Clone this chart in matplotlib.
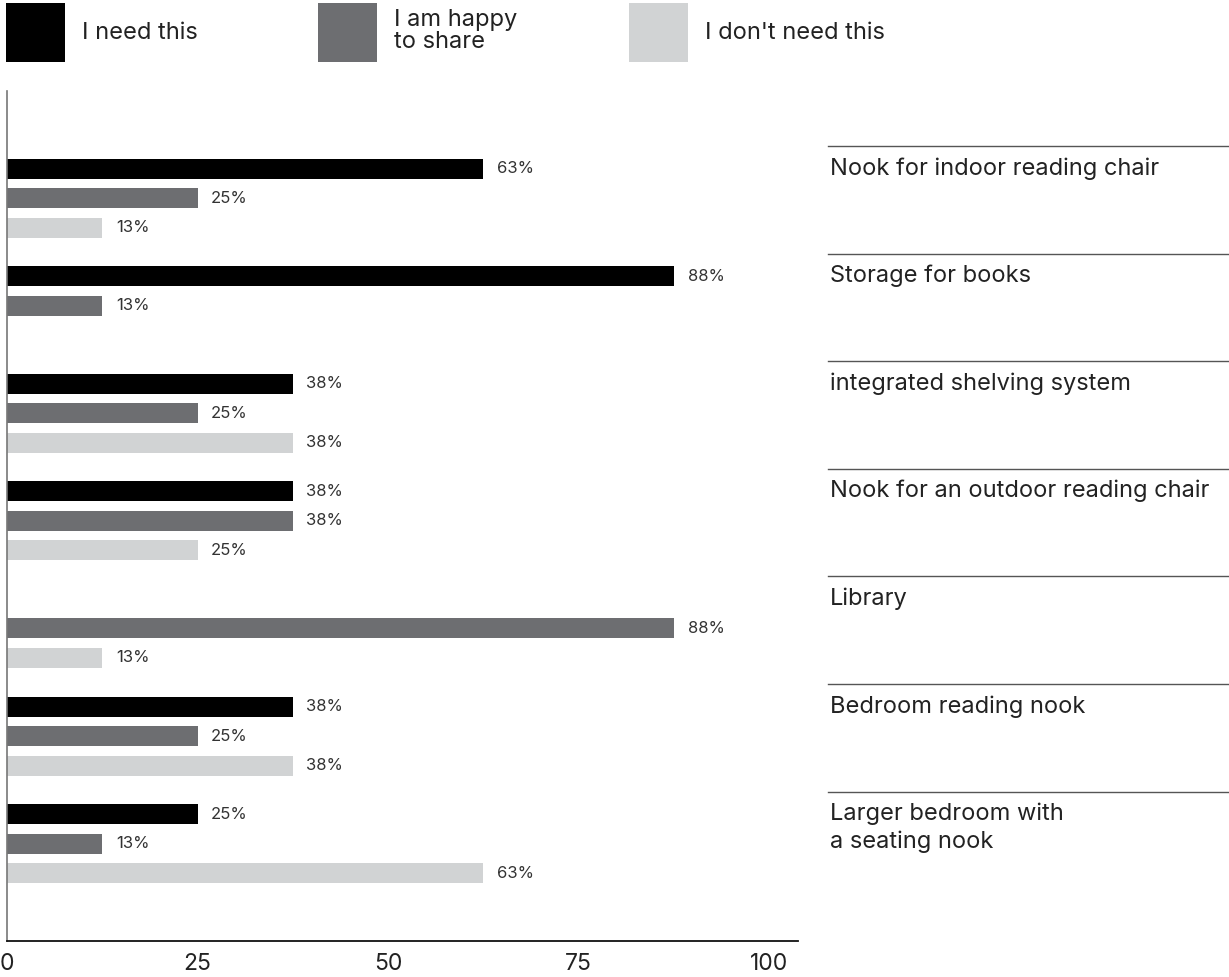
import math
import matplotlib.pyplot as plt
from matplotlib.patches import Rectangle
import matplotlib.transforms as mtransforms

plt.rcParams['font.family'] = ['Inter', 'DejaVu Sans']

# survey answers (share of respondents, %)
categories = ['Nook for indoor reading chair', 'Storage for books',
              'integrated shelving system', 'Nook for an outdoor reading chair',
              'Library', 'Bedroom reading nook', 'Larger bedroom with\na seating nook']
need = [62.5, 87.5, 37.5, 37.5, 0, 37.5, 25]
share = [25, 12.5, 25, 37.5, 87.5, 25, 12.5]
dont = [12.5, 0, 37.5, 25, 12.5, 37.5, 62.5]
series_names = ['I need this', 'I am happy\nto share', "I don't need this"]
colors = ['#000000', '#6d6e71', '#d1d3d4']
xticks = [0, 25, 50, 75, 100]

W, H = 1229, 977
fig = plt.figure(figsize=(W / 100, H / 100), dpi=100)

# axes placed in pixel units
left, right, top, bottom = 7, 798, 91, 941
ax = fig.add_axes([left / W, 1 - bottom / H, (right - left) / W, (bottom - top) / H])

step = 107.6  # px between groups
offsets = [-29.5 / step, 0, 29.5 / step]
bar_h = 20 / step

for s, vals in enumerate([need, share, dont]):
    ys = [i + offsets[s] for i in range(len(categories))]
    ax.barh(ys, vals, height=bar_h, color=colors[s], linewidth=0)
    for y, v in zip(ys, vals):
        if v > 0:
            ax.text(v + 1.8, y, f'{math.floor(v + 0.5)}%', va='center', ha='left',
                    fontsize=12, color='#333333')

ax.set_xlim(0, 103.8)
top_y = -(198 - top) / step
ax.set_ylim(top_y + (bottom - top) / step, top_y)
ax.set_xticks(xticks)
ax.set_xticklabels([str(t) for t in xticks], fontsize=16.5, color='#222222')
ax.tick_params(axis='x', length=0, pad=9)
ax.set_yticks([])
for sp in ['top', 'right']:
    ax.spines[sp].set_visible(False)
ax.spines['left'].set_color('#777777')
ax.spines['left'].set_linewidth(1.2)
ax.spines['bottom'].set_color('#111111')
ax.spines['bottom'].set_linewidth(1.3)

# category labels on the right, with a rule above each
trans = mtransforms.blended_transform_factory(fig.transFigure, ax.transData)
for i, name in enumerate(categories):
    ly = i - 52 / step
    ax.plot([828 / W, 1.0], [ly, ly], transform=trans, color='#555555', lw=1,
            clip_on=False)
    ax.text(830 / W, ly + 11 / step, name, transform=trans, va='top', ha='left',
            fontsize=17, color='#222222', linespacing=1.32)

# legend at the top
leg_x = [6, 318, 629]
for x0, c, name in zip(leg_x, colors, series_names):
    fig.patches.append(Rectangle((x0 / W, 1 - 62 / H), 59 / W, 59 / H,
                                 transform=fig.transFigure, color=c, lw=0))
    ty = 31 if '\n' in name else 33
    fig.text((x0 + 76) / W, 1 - ty / H, name, va='center', ha='left',
             fontsize=17, color='#222222', linespacing=0.95)

fig.savefig('out.png', dpi=100)
